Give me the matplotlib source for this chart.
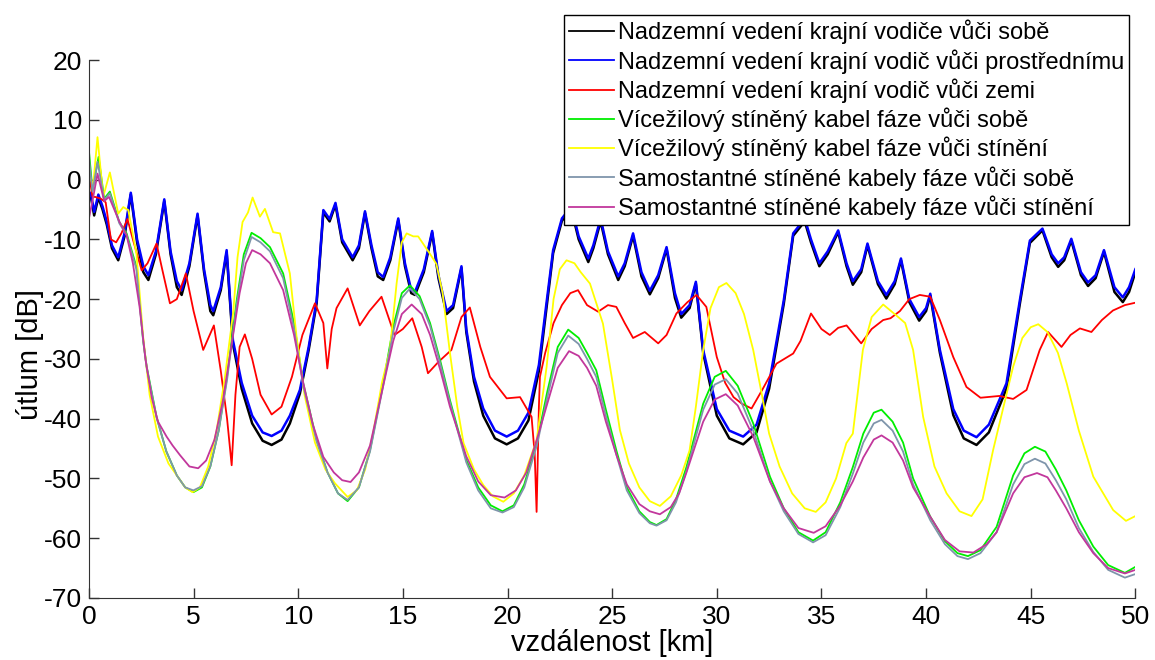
import matplotlib
matplotlib.use("Agg")
import matplotlib.pyplot as plt

plt.rcParams["font.family"] = ["Liberation Sans", "DejaVu Sans"]
plt.rcParams["axes.unicode_minus"] = False

# Nadzemni vedeni krajni vodic vuci prostrednimu (modra)
blue_x = [0.0, 0.1, 0.25, 0.45, 0.65, 0.85, 1.1, 1.4, 1.7, 2.0, 2.3, 2.6, 2.84, 3.2, 3.6, 3.9, 4.2, 4.43,
          4.8, 5.19, 5.5, 5.8, 5.94, 6.3, 6.58, 6.88, 7.3, 7.8, 8.3, 8.73, 9.2, 9.6, 10.08, 10.5, 10.88,
          11.2, 11.5, 11.78, 12.1, 12.6, 12.9, 13.19, 13.5, 13.8, 14.06, 14.4, 14.78, 15.1, 15.4, 15.58,
          16.0, 16.4, 16.7, 17.09, 17.4, 17.8, 18.03, 18.4, 18.84, 19.4, 19.96, 20.5, 21.0, 21.5, 21.85,
          22.18, 22.6, 23.05, 23.4, 23.86, 24.1, 24.45, 24.8, 25.29, 25.6, 26.0, 26.4, 26.8, 27.2, 27.6,
          28.0, 28.3, 28.7, 29.0, 29.35, 30.0, 30.6, 31.26, 31.9, 32.5, 33.2, 33.65, 34.2, 34.5, 34.9,
          35.3, 35.8, 36.2, 36.5, 36.9, 37.2, 37.7, 38.1, 38.5, 38.8, 39.2, 39.67, 40.0, 40.2, 40.66,
          41.3, 41.8, 42.41, 43.0, 43.84, 44.48, 44.96, 45.56, 46.0, 46.31, 46.6, 46.94, 47.4, 47.74,
          48.1, 48.5, 49.0, 49.4, 49.7, 50.0]
blue_y = [-2.0, -2.5, -5.4, -2.5, -4.5, -7.0, -11.0, -13.0, -9.0, -2.2, -10.0, -14.5, -16.0, -12.0, -3.3,
          -12.0, -17.0, -18.5, -14.0, -5.7, -15.0, -21.0, -22.0, -18.0, -11.8, -26.9, -34.0, -39.5, -42.3,
          -42.9, -42.0, -39.5, -35.2, -28.0, -20.2, -5.1, -6.6, -3.9, -10.0, -13.0, -11.0, -5.3, -11.0,
          -15.5, -16.3, -13.0, -6.5, -14.0, -18.5, -18.8, -15.0, -8.6, -16.0, -22.0, -21.0, -14.5, -25.0,
          -33.0, -38.3, -42.0, -43.0, -42.0, -39.0, -31.0, -21.0, -11.8, -6.5, -4.5, -9.5, -13.2, -11.0,
          -6.5, -12.0, -16.2, -14.0, -9.0, -15.5, -18.6, -16.0, -11.3, -19.0, -22.5, -21.0, -17.1, -28.5,
          -38.4, -42.0, -43.0, -41.0, -34.1, -20.2, -9.0, -6.5, -10.0, -14.0, -12.0, -8.5, -14.0, -17.0,
          -15.0, -10.7, -17.0, -19.3, -17.0, -13.2, -20.0, -23.0, -21.5, -19.1, -28.5, -38.4, -42.0,
          -43.1, -41.0, -34.1, -20.2, -10.2, -8.2, -12.5, -14.0, -13.0, -9.9, -15.5, -17.2, -16.0,
          -11.8, -18.0, -19.7, -18.0, -15.0]

# Nadzemni vedeni krajni vodice vuci sobe (cerna)
black_x = blue_x
black_y = [-3.0, -3.0, -6.0, -3.0, -5.0, -7.5, -11.5, -13.5, -9.5, -2.5, -10.5, -15.5, -16.8, -12.5, -3.6,
           -12.5, -18.0, -19.3, -14.5, -6.0, -15.5, -22.0, -22.7, -18.5, -12.2, -27.5, -35.0, -40.8, -43.7,
           -44.4, -43.5, -40.8, -35.8, -28.5, -20.7, -5.5, -7.0, -4.2, -10.5, -13.5, -11.5, -5.6, -11.5,
           -16.2, -16.8, -13.5, -6.8, -14.5, -19.0, -19.3, -15.5, -8.9, -16.5, -22.5, -21.5, -14.8, -25.5,
           -33.8, -39.5, -43.3, -44.3, -43.3, -40.3, -32.0, -21.8, -12.3, -6.9, -5.0, -10.0, -13.8, -11.5,
           -7.0, -12.5, -16.8, -14.5, -9.4, -16.2, -19.2, -16.5, -11.6, -19.8, -23.1, -21.5, -17.4, -29.0,
           -39.5, -43.3, -44.3, -42.3, -35.0, -20.8, -9.4, -7.0, -10.5, -14.5, -12.5, -8.8, -14.5, -17.6,
           -15.5, -11.0, -17.5, -19.9, -17.5, -13.5, -20.5, -23.6, -22.0, -19.4, -29.0, -39.4, -43.3,
           -44.4, -42.3, -35.0, -20.8, -10.6, -8.5, -13.0, -14.6, -13.5, -10.2, -16.0, -17.8, -16.5,
           -12.1, -18.8, -20.5, -18.8, -15.5]

# Nadzemni vedeni krajni vodic vuci zemi (cervena)
red_x = [0.0, 0.17, 0.3, 0.57, 0.8, 1.05, 1.3, 1.55, 1.84, 2.1, 2.52, 2.8, 3.23, 3.5, 3.87, 4.2, 4.63,
         5.0, 5.46, 5.97, 6.3, 6.6, 6.82, 7.0, 7.2, 7.45, 7.8, 8.2, 8.73, 9.2, 9.7, 10.2, 10.8, 11.2,
         11.39, 11.6, 11.83, 12.36, 12.94, 13.4, 13.98, 14.6, 15.0, 15.45, 15.9, 16.2, 16.7, 17.32,
         17.8, 18.2, 18.7, 19.16, 19.96, 20.6, 21.15, 21.3, 21.39, 21.5, 21.55, 21.8, 22.2, 22.6, 23.0,
         23.37, 23.8, 24.33, 24.8, 25.2, 25.6, 26.0, 26.56, 27.2, 27.6, 28.07, 28.6, 29.03, 29.5, 30.0,
         30.4, 30.8, 31.2, 31.66, 32.2, 32.85, 33.65, 34.0, 34.5, 35.0, 35.4, 35.8, 36.2, 36.9, 37.4,
         37.95, 38.3, 38.75, 39.2, 39.7, 40.2, 40.66, 41.3, 41.93, 42.6, 43.5, 44.16, 44.8, 45.1, 45.43,
         45.83, 46.47, 46.9, 47.35, 47.9, 48.4, 48.93, 49.5, 50.0]
red_y = [1.0, -2.9, -2.9, -3.2, -3.8, -10.0, -10.5, -9.0, -6.6, -10.0, -15.2, -14.0, -10.7, -15.0, -20.7,
         -20.0, -15.7, -22.0, -28.5, -24.4, -32.0, -40.0, -47.8, -36.0, -28.0, -25.9, -30.0, -36.0, -39.3,
         -38.0, -33.0, -26.0, -20.7, -24.0, -31.6, -25.0, -21.5, -18.2, -24.4, -22.0, -19.6, -26.0, -25.0,
         -23.2, -28.0, -32.4, -30.5, -28.5, -23.0, -21.4, -28.0, -33.0, -36.6, -36.4, -39.7, -46.0, -55.6,
         -38.0, -33.0, -29.0, -24.0, -21.0, -19.0, -18.5, -21.0, -22.1, -21.0, -21.3, -24.0, -26.5,
         -25.5, -27.4, -26.0, -22.4, -20.5, -19.3, -21.3, -29.7, -34.0, -36.4, -37.5, -38.3, -35.0,
         -30.8, -29.1, -27.0, -22.4, -25.0, -26.0, -24.8, -24.4, -27.4, -25.0, -23.5, -23.2, -22.0,
         -20.0, -19.3, -19.6, -23.5, -29.7, -34.7, -36.5, -36.2, -36.7, -35.2, -32.0, -28.5, -25.5,
         -28.0, -26.0, -24.9, -25.5, -23.5, -21.9, -21.0, -20.6]

# Vicezilovy stineny kabel faze vuci sobe (zelena)
green_x = [0.0, 0.17, 0.46, 0.73, 1.0, 1.45, 1.8, 2.27, 2.59, 2.76, 3.23, 3.7, 4.2, 4.6, 4.99, 5.4, 5.8,
           6.2, 6.6, 7.06, 7.4, 7.77, 8.2, 8.65, 9.28, 9.8, 10.24, 10.88, 11.4, 11.9, 12.36, 12.9, 13.43,
           14.06, 14.54, 14.95, 15.34, 15.8, 16.3, 16.8, 17.25, 18.03, 18.6, 19.2, 19.76, 20.3, 20.8,
           21.4, 21.9, 22.4, 22.9, 23.4, 23.8, 24.24, 24.7, 25.2, 25.7, 26.3, 26.8, 27.12, 27.6, 28.05,
           28.55, 29.35, 29.9, 30.43, 31.0, 31.74, 32.54, 33.2, 33.9, 34.6, 35.2, 35.9, 36.5, 37.0, 37.5,
           37.87, 38.4, 38.9, 39.38, 40.2, 40.9, 41.5, 42.0, 42.6, 43.37, 44.16, 44.7, 45.2, 45.7, 46.2,
           46.7, 47.3, 47.99, 48.7, 49.5, 50.0]
green_y = [4.8, -1.8, 3.8, -3.2, -2.0, -7.1, -9.0, -14.6, -26.9, -31.3, -39.7, -45.5, -49.5, -51.5, -52.3,
           -51.5, -48.0, -42.0, -33.0, -20.2, -12.5, -8.9, -9.8, -11.3, -15.7, -24.0, -34.1, -43.6, -49.0,
           -52.5, -53.8, -51.5, -45.3, -34.1, -24.6, -19.0, -17.7, -19.5, -24.0, -30.5, -36.9, -46.9,
           -51.5, -54.5, -55.5, -54.5, -51.0, -44.0, -35.5, -28.0, -25.1, -26.5, -29.0, -31.9, -38.5,
           -45.3, -51.5, -55.5, -57.3, -57.8, -56.8, -53.5, -48.1, -37.5, -33.0, -32.0, -34.5, -40.8,
           -49.7, -55.0, -59.0, -60.4, -59.0, -54.0, -48.1, -42.5, -39.0, -38.5, -40.5, -44.0, -50.0,
           -56.4, -60.5, -62.5, -63.0, -62.0, -58.1, -49.5, -45.8, -44.7, -45.5, -48.5, -52.0, -57.0,
           -61.4, -64.5, -65.8, -64.8]

# Vicezilovy stineny kabel faze vuci stineni (zluta)
yellow_x = [0.0, 0.2, 0.41, 0.68, 1.0, 1.4, 1.64, 1.88, 2.27, 2.59, 2.9, 3.3, 3.8, 4.3, 4.6, 4.95, 5.3,
            5.7, 6.1, 6.5, 6.9, 7.1, 7.34, 7.6, 7.82, 8.17, 8.41, 8.8, 9.13, 9.6, 9.92, 10.3, 10.8, 11.3,
            11.75, 12.36, 12.8, 13.2, 13.6, 14.0, 14.38, 14.7, 14.95, 15.18, 15.5, 15.73, 16.29, 16.6,
            16.9, 17.25, 17.6, 17.9, 18.4, 18.84, 19.3, 19.8, 20.3, 20.8, 21.39, 21.87, 22.2, 22.5, 22.82,
            23.2, 23.5, 23.94, 24.56, 25.0, 25.37, 25.8, 26.3, 26.8, 27.28, 27.8, 28.3, 28.7, 29.0, 29.35,
            29.7, 30.1, 30.46, 30.9, 31.3, 31.74, 32.1, 32.5, 33.0, 33.6, 34.2, 34.73, 35.2, 35.7, 36.19,
            36.5, 36.98, 37.4, 37.95, 38.5, 39.0, 39.38, 39.86, 40.4, 40.98, 41.6, 42.17, 42.7, 43.2,
            43.7, 44.16, 44.6, 45.0, 45.36, 45.8, 46.3, 46.72, 47.3, 47.99, 48.94, 49.55, 50.0]
yellow_y = [1.0, -1.0, 7.1, -2.9, 1.2, -5.7, -4.6, -5.1, -12.4, -26.3, -36.0, -43.0, -47.5, -50.0, -51.5,
            -52.3, -51.5, -48.0, -42.0, -33.0, -22.0, -13.0, -7.1, -5.5, -3.0, -6.2, -4.9, -8.8, -9.0,
            -15.7, -26.3, -36.0, -44.0, -48.5, -50.8, -53.1, -52.0, -48.5, -42.0, -34.0, -28.5, -17.4,
            -10.5, -9.0, -9.5, -9.5, -12.4, -14.1, -19.0, -29.0, -38.0, -44.1, -48.5, -51.1, -53.0,
            -53.9, -52.5, -49.5, -43.6, -31.3, -20.0, -15.0, -13.5, -14.0, -15.5, -17.4, -24.1, -33.5,
            -41.9, -47.5, -51.5, -53.8, -54.6, -53.0, -49.5, -45.3, -38.0, -28.5, -21.5, -18.0, -17.3,
            -19.0, -22.5, -28.5, -35.0, -42.5, -48.0, -52.5, -55.0, -55.6, -54.0, -50.0, -44.1, -42.5,
            -28.5, -23.0, -20.9, -22.5, -24.0, -28.5, -39.7, -48.0, -52.5, -55.5, -56.3, -53.5, -45.3,
            -38.0, -31.3, -26.5, -24.7, -24.2, -25.5, -29.0, -34.1, -42.0, -49.7, -55.3, -57.1, -56.3]

# Samostantne stinene kabely faze vuci sobe (seda)
grey_x = [0.0, 0.17, 0.41, 0.73, 1.0, 1.45, 1.8, 2.27, 2.59, 2.76, 3.23, 3.7, 4.2, 4.6, 4.99, 5.4, 5.8,
          6.2, 6.6, 7.06, 7.4, 7.77, 8.2, 8.65, 9.28, 9.8, 10.24, 10.88, 11.4, 11.9, 12.36, 12.9, 13.43,
          14.06, 14.54, 14.95, 15.34, 15.8, 16.3, 16.8, 17.25, 18.03, 18.6, 19.2, 19.76, 20.3, 20.8,
          21.4, 21.9, 22.4, 22.9, 23.4, 23.8, 24.24, 24.7, 25.2, 25.7, 26.3, 26.8, 27.12, 27.6, 28.05,
          28.55, 29.35, 29.9, 30.43, 31.0, 31.74, 32.54, 33.2, 33.9, 34.6, 35.2, 35.9, 36.5, 37.0, 37.5,
          37.87, 38.4, 38.9, 39.38, 40.2, 40.9, 41.5, 42.0, 42.6, 43.37, 44.16, 44.7, 45.2, 45.7, 46.2,
          46.7, 47.3, 47.99, 48.7, 49.5, 50.0]
grey_y = [3.5, -2.0, 3.0, -3.4, -2.3, -7.3, -9.3, -15.0, -27.0, -31.5, -39.8, -45.5, -49.5, -51.5, -52.0,
          -51.3, -48.0, -42.0, -33.5, -21.0, -13.5, -9.6, -10.5, -12.0, -16.5, -25.0, -34.5, -43.8, -49.0,
          -52.5, -53.6, -51.5, -45.5, -34.5, -25.5, -19.8, -18.2, -20.0, -24.5, -31.0, -37.3, -47.3,
          -52.0, -55.0, -55.7, -54.8, -51.5, -44.5, -36.5, -29.0, -26.1, -27.5, -30.0, -33.0, -39.5,
          -46.0, -52.0, -55.8, -57.5, -57.9, -57.0, -54.0, -48.8, -38.5, -34.3, -33.4, -35.8, -42.0,
          -50.5, -55.5, -59.3, -60.7, -59.5, -54.8, -49.2, -44.0, -40.8, -40.2, -42.0, -45.5, -51.0,
          -57.0, -61.0, -63.0, -63.5, -62.5, -59.0, -51.0, -47.6, -46.7, -47.5, -50.3, -53.5, -58.3,
          -62.3, -65.3, -66.6, -66.0]

# Samostantne stinene kabely faze vuci stineni (fialova)
purple_x = [0.0, 0.2, 0.41, 0.73, 0.96, 1.45, 1.8, 2.1, 2.42, 2.7, 3.0, 3.3, 3.71, 4.0, 4.35, 4.8, 5.22,
            5.6, 6.0, 6.4, 6.8, 7.2, 7.5, 7.8, 8.2, 8.65, 9.28, 9.8, 10.24, 10.7, 11.2, 11.7, 12.1, 12.5,
            12.9, 13.43, 14.06, 14.54, 14.95, 15.42, 15.9, 16.3, 16.8, 17.25, 18.03, 18.6, 19.2, 19.86,
            20.4, 20.9, 21.4, 21.9, 22.4, 22.94, 23.4, 23.8, 24.24, 24.7, 25.2, 25.7, 26.3, 26.8, 27.28,
            27.8, 28.2, 28.55, 29.35, 29.9, 30.43, 31.0, 31.74, 32.54, 33.2, 33.9, 34.63, 35.2, 35.9,
            36.5, 37.0, 37.5, 37.87, 38.4, 38.9, 39.38, 40.2, 40.9, 41.6, 42.26, 42.9, 43.37, 44.16, 44.7,
            45.3, 45.8, 46.2, 46.7, 47.3, 47.99, 48.7, 49.5, 50.0]
purple_y = [-6.5, -3.0, 1.0, -3.6, -2.9, -7.0, -9.3, -14.0, -21.3, -30.0, -36.5, -40.5, -43.0, -44.5,
            -46.1, -48.0, -48.3, -47.0, -43.5, -37.0, -28.0, -19.0, -14.0, -11.8, -12.5, -14.0, -18.5,
            -26.0, -34.0, -41.0, -46.4, -49.0, -50.3, -50.6, -49.0, -44.5, -34.5, -27.0, -22.5, -20.9,
            -22.5, -26.0, -32.0, -38.0, -46.3, -50.5, -52.8, -53.2, -52.0, -49.0, -43.5, -37.5, -31.5,
            -28.7, -29.5, -31.5, -34.5, -40.5, -46.0, -51.0, -54.3, -55.5, -56.0, -54.8, -52.5, -49.0,
            -40.5, -36.8, -35.9, -37.8, -43.0, -50.5, -55.0, -58.3, -59.1, -58.0, -54.5, -50.5, -46.5,
            -43.5, -42.8, -44.0, -47.0, -51.5, -56.4, -60.3, -62.2, -62.4, -61.0, -59.0, -52.5, -49.8,
            -49.1, -49.8, -52.0, -55.0, -59.0, -62.5, -65.0, -65.9, -65.3]

series = [
    (black_x, black_y, "#000000", 1.8, "Nadzemní vedení krajní vodiče vůči sobě"),
    (blue_x, blue_y, "#0000ff", 1.8, "Nadzemní vedení krajní vodič vůči prostřednímu"),
    (red_x, red_y, "#ff0000", 1.3, "Nadzemní vedení krajní vodič vůči zemi"),
    (green_x, green_y, "#00ee00", 1.3, "Vícežilový stíněný kabel fáze vůči sobě"),
    (yellow_x, yellow_y, "#ffff00", 1.3, "Vícežilový stíněný kabel fáze vůči stínění"),
    (grey_x, grey_y, "#7f95ab", 1.3, "Samostantné stíněné kabely fáze vůči sobě"),
    (purple_x, purple_y, "#c2379c", 1.3, "Samostantné stíněné kabely fáze vůči stínění"),
]

fig = plt.figure(figsize=(11.55, 6.6), dpi=100)
ax = fig.add_axes([0.077, 0.094, 0.906, 0.815])

for xs, ys, color, lw, label in series:
    ax.plot(xs, ys, color=color, linewidth=lw, label=label)

ax.set_xlim(0, 50)
ax.set_ylim(-70, 20)
ax.set_xticks(range(0, 51, 5))
ax.set_yticks(range(-70, 21, 10))
ax.spines["top"].set_visible(False)
ax.spines["right"].set_visible(False)
for sp in ("left", "bottom"):
    ax.spines[sp].set_color("#333333")
ax.tick_params(direction="in", length=7, width=1, colors="#333333",
               labelcolor="black", labelsize=19, pad=5)
ax.set_xlabel("vzdálenost [km]", fontsize=21, labelpad=0)
ax.set_ylabel("útlum [dB]", fontsize=21)
ax.yaxis.set_label_coords(-0.043, 0.452)

leg = ax.legend(loc="upper left", bbox_to_anchor=(564 / 1155, 1 - 15 / 660),
                bbox_transform=fig.transFigure, borderaxespad=0, fontsize=17,
                fancybox=False, framealpha=1, edgecolor="black",
                handlelength=1.9, handletextpad=0.2, labelspacing=0.2, borderpad=0.2)
leg.get_frame().set_linewidth(1.0)
for line in leg.get_lines():
    line.set_linewidth(1.3)

fig.savefig("out.png", dpi=100)
